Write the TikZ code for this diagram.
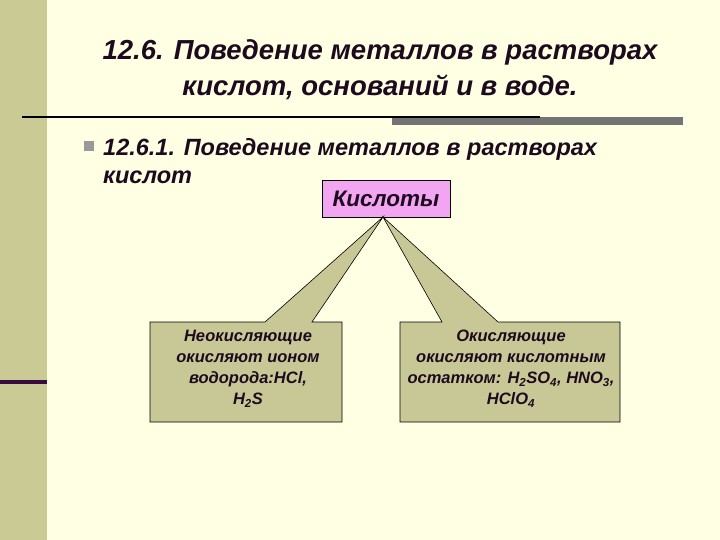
\documentclass[tikz,border=0pt]{standalone}
\usepackage{fontspec}
\setmainfont{Liberation Sans}
\definecolor{bg}{HTML}{FFFFE3}
\definecolor{bar}{HTML}{CACA94}
\definecolor{khaki}{HTML}{C8C896}
\definecolor{pinkb}{HTML}{F2A6F2}
\definecolor{purp}{HTML}{3A0A40}
\definecolor{txt}{HTML}{1E0A1E}
\begin{document}
\begin{tikzpicture}[x=1pt,y=-1pt,
  tt/.style={text=txt,font=\bfseries\itshape,align=center,inner sep=0pt},
  call/.style={draw=black,fill=khaki,line width=0.6pt}]
\useasboundingbox (0,0) rectangle (720,540);
\fill[bg] (0,0) rectangle (720,540);
\fill[bar] (0,0) rectangle (47,540);
\fill[purp] (0,380) rectangle (47,384);
\fill[black!55] (392,117) rectangle (683,125);
\draw[line width=1.6pt,black] (22,117) -- (540,117);
\node[tt,font=\fontsize{27.5}{36}\selectfont\bfseries\itshape] (title) at (380,70)
  {12.6. Поведение металлов в растворах\\кислот, оснований и в воде.};
\fill[black!40] (84,141) rectangle (94,151);
\node[tt,anchor=west,align=left,font=\fontsize{23.5}{28}\selectfont\bfseries\itshape] (sub) at (103,161)
  {12.6.1. Поведение металлов в растворах\\кислот};
\node[draw=black,fill=pinkb,minimum width=128pt,minimum height=37pt,inner sep=0pt,
  text=txt,font=\fontsize{22.5}{24}\selectfont\bfseries\itshape] (acid) at (386,198.5) {Кислоты};
\coordinate (apex) at (383,217);
\draw[call] (150,322) -- (265,322) -- (apex) -- (312,322) -- (342,322) -- (342,422) -- (150,422) -- cycle;
\draw[call] (400,322) -- (442,322) -- (apex) -- (498,322) -- (620,322) -- (620,422) -- (400,422) -- cycle;
\node[tt,font=\fontsize{16.5}{21}\selectfont\bfseries\itshape] (left) at (248,369)
  {Неокисляющие\\окисляют ионом\\водорода:HCl,\\H\textsubscript{2}S};
\node[tt,font=\fontsize{16.5}{21}\selectfont\bfseries\itshape] (right) at (511,369)
  {Окисляющие\\окисляют кислотным\\остатком: H\textsubscript{2}SO\textsubscript{4}, HNO\textsubscript{3},\\HClO\textsubscript{4}};
\end{tikzpicture}
\end{document}
